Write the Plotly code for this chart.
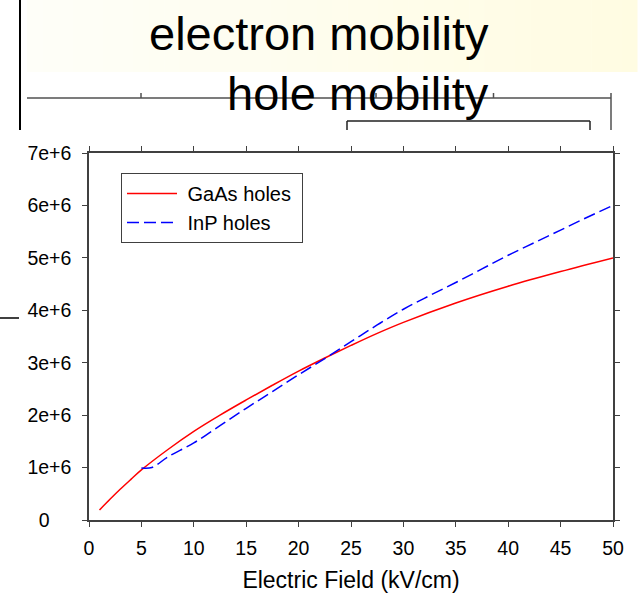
import plotly.graph_objects as go

# Hole drift velocity vs. electric field
gaas_field = [1, 2, 3, 4, 5, 7.5, 10, 12.5, 15, 17.5, 20, 22.5, 25, 27.5, 30, 35, 40, 45, 50]
gaas_vel = [0.19e6, 0.395e6, 0.59e6, 0.775e6, 0.955e6, 1.34e6, 1.69e6, 2.0e6, 2.29e6, 2.57e6,
            2.84e6, 3.09e6, 3.33e6, 3.56e6, 3.77e6, 4.14e6, 4.46e6, 4.74e6, 5.0e6]

inp_field = [5, 6, 7.5, 10, 12.5, 15, 17.5, 20, 22.5, 25, 27.5, 30, 32.5, 35, 37.5, 40, 42.5, 45, 47.5, 50]
inp_vel = [0.99e6, 1.0e6, 1.2e6, 1.47e6, 1.8e6, 2.13e6, 2.45e6, 2.77e6, 3.08e6, 3.40e6, 3.72e6,
           4.02e6, 4.28e6, 4.53e6, 4.79e6, 5.05e6, 5.29e6, 5.53e6, 5.77e6, 6.0e6]

x_ticks = [0, 5, 10, 15, 20, 25, 30, 35, 40, 45, 50]
y_ticks = [0, 1e6, 2e6, 3e6, 4e6, 5e6, 6e6, 7e6]
y_tick_text = ["0\u00a0\u00a0\u00a0\u00a0", "1e+6", "2e+6", "3e+6", "4e+6", "5e+6", "6e+6", "7e+6"]

heading_lines = ["electron mobility", "hole mobility"]

FONT = "Liberation Sans, Arial, sans-serif"
W, H = 642, 599
ML, MR, MT, MB = 89, 29, 153, 79
PW, PH = W - ML - MR, H - MT - MB


def fx(px):
    return (px - ML) / PW


def fy(py):
    return (H - MB - py) / PH


fig = go.Figure()
fig.add_trace(go.Scatter(x=gaas_field, y=gaas_vel, mode="lines", name="\u00a0GaAs holes\u00a0",
                         line=dict(color="#ff0000", width=1.5, smoothing=1.0), line_shape="spline"))
fig.add_trace(go.Scatter(x=inp_field, y=inp_vel, mode="lines", name="\u00a0InP holes",
                         line=dict(color="#0000ff", width=1.5, dash="12px,5px"),
                         line_shape="spline"))

shapes = []

# pale yellow banner behind the heading, fading in from the left
n_strips = 40
x_left, x_right = 27, 637
for i in range(n_strips):
    t = i / (n_strips - 1)
    r = 254 + round(1 * t)
    g = 254 - round(2 * t)
    b = 248 - round(22 * t)
    xa = x_left + (x_right - x_left) * i / n_strips
    xb = x_left + (x_right - x_left) * (i + 1) / n_strips + 0.5
    shapes.append(dict(type="rect", xref="paper", yref="paper",
                       x0=fx(xa), x1=fx(xb), y0=fy(72), y1=fy(0),
                       fillcolor=f"rgb({r},{g},{b})", line=dict(width=0), layer="below"))


def seg(x0, y0, x1, y1, color="#505050", width=1.5):
    shapes.append(dict(type="line", xref="paper", yref="paper",
                       x0=fx(x0), y0=fy(y0), x1=fx(x1), y1=fy(y1),
                       line=dict(color=color, width=width)))


# slide-frame rules around the heading
seg(20, 0, 20, 130, color="#000000", width=2)
seg(0, 318, 19, 318, color="#000000", width=1.5)
seg(27, 98, 611, 98)
for tx in [141, 258.5, 376, 493.5]:
    seg(tx, 98, tx, 93)
seg(611, 93, 611, 130)
seg(347, 121, 590, 121, color="#202020", width=1.5)
seg(347, 121, 347, 130, color="#202020", width=1.5)
seg(590, 121, 590, 130, color="#202020", width=1.5)

annotations = [
    dict(text=heading_lines[0], xref="paper", yref="paper", x=fx(491), y=fy(33),
         xanchor="right", yanchor="middle", showarrow=False,
         font=dict(family=FONT, size=47, color="#000000")),
    dict(text=heading_lines[1], xref="paper", yref="paper", x=fx(491), y=fy(94),
         xanchor="right", yanchor="middle", showarrow=False,
         font=dict(family=FONT, size=47, color="#000000")),
]

axis_common = dict(showline=True, linecolor="#404040", linewidth=1.5, mirror="ticks",
                   ticks="outside", ticklen=5, tickwidth=1.2, tickcolor="#404040",
                   showgrid=False, zeroline=False, automargin=False,
                   tickfont=dict(family=FONT, size=19.5, color="#000000"))

fig.update_layout(
    width=W, height=H,
    margin=dict(l=ML, r=MR, t=MT, b=MB, pad=0, autoexpand=False),
    paper_bgcolor="white", plot_bgcolor="white",
    font=dict(family=FONT, color="#000000"),
    xaxis=dict(range=[0, 50], tickmode="array", tickvals=x_ticks, ticklabelstandoff=5,
               title=dict(text="Electric Field (kV/cm)", font=dict(family=FONT, size=23), standoff=14),
               **axis_common),
    yaxis=dict(range=[0, 7e6], tickmode="array", tickvals=y_ticks, ticktext=y_tick_text,
               ticklabelstandoff=7, **axis_common),
    legend=dict(x=fx(121), y=fy(173), xanchor="left", yanchor="top",
                bgcolor="white", bordercolor="#404040", borderwidth=1,
                font=dict(family=FONT, size=20, color="#000000"),
                itemwidth=50, tracegroupgap=0),
    shapes=shapes,
    annotations=annotations,
    showlegend=True,
)

fig.write_html("out.html")
